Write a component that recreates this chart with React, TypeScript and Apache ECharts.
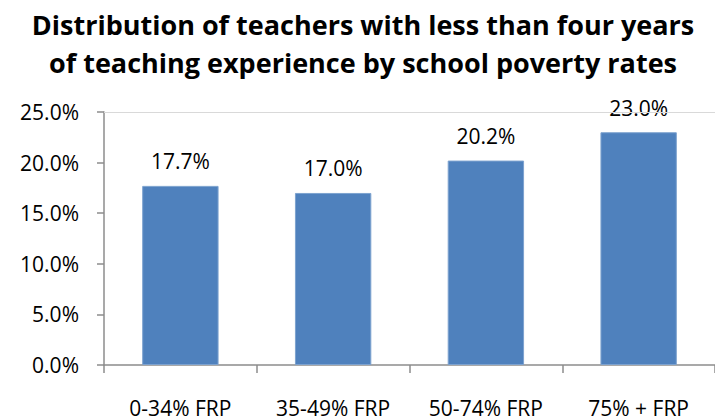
import React, { useEffect, useRef } from "react";
import * as echarts from "echarts";

const categories = ["0-34% FRP", "35-49% FRP", "50-74% FRP", "75% + FRP"];
const values = [17.7, 17.0, 20.2, 23.0];
const titleLines = [
  "Distribution of teachers with less than four years",
  "of teaching experience by school poverty rates",
];

export default function App() {
  const ref = useRef<HTMLDivElement>(null);
  useEffect(() => {
    if (!ref.current) return;
    const chart = echarts.init(ref.current, null, { renderer: "svg" });
    const font = "Open Sans";
    chart.setOption({
      animation: false,
      backgroundColor: "#ffffff",
      title: {
        text: titleLines.join("\n"),
        left: 358,
        top: 0,
        textAlign: "center",
        textStyle: {
          fontFamily: font,
          fontWeight: "bold",
          fontSize: 27,
          lineHeight: 38,
          color: "#000000",
        },
      },
      grid: { left: 104, top: 112, width: 622, bottom: 55 },
      xAxis: {
        type: "category",
        data: categories,
        axisLine: { lineStyle: { color: "#8c8c8c", width: 1.5 } },
        axisTick: { show: true, length: 8, lineStyle: { color: "#8c8c8c", width: 1.5 } },
        axisLabel: { margin: 32, fontFamily: font, fontSize: 21, color: "#000000" },
      },
      yAxis: {
        type: "value",
        min: 0,
        max: 25,
        interval: 5,
        axisLine: { show: true, lineStyle: { color: "#8c8c8c", width: 1.5 } },
        axisTick: { show: true, length: 7, lineStyle: { color: "#8c8c8c", width: 1.5 } },
        splitLine: { show: false },
        axisLabel: {
          margin: 25,
          fontFamily: font,
          fontSize: 21,
          color: "#000000",
          formatter: (v: number) => v.toFixed(1) + "%",
        },
      },
      series: [
        {
          type: "bar",
          data: values,
          barWidth: "50%",
          itemStyle: { color: "#4f81bd", borderColor: "#7da2cf", borderWidth: 1 },
          label: {
            show: true,
            position: "top",
            distance: 14,
            fontFamily: font,
            fontSize: 21,
            color: "#000000",
            formatter: (p: any) => Number(p.value).toFixed(1) + "%",
          },
          markLine: {
            silent: true,
            symbol: "none",
            label: { show: false },
            lineStyle: { color: "#d9d9d9", type: "solid", width: 1 },
            data: [{ yAxis: 25 }],
          },
        },
      ],
    });
    return () => chart.dispose();
  }, []);
  return (
    <div
      ref={ref}
      style={{ position: "fixed", left: 0, top: 0, width: 715, height: 420 }}
    />
  );
}
